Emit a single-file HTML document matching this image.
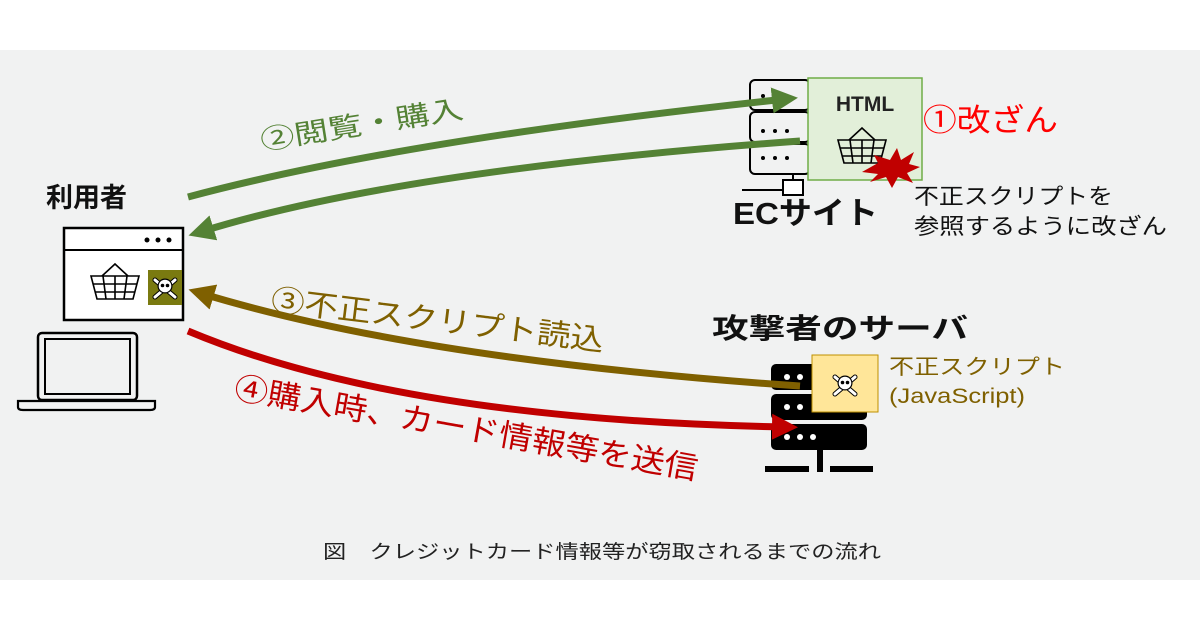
<!DOCTYPE html>
<html><head><meta charset="utf-8"><style>
html,body{margin:0;padding:0;background:#fff;}
svg{display:block;}
text{font-family:"Liberation Sans","Noto Sans CJK JP",sans-serif;}
</style></head><body>
<svg width="1200" height="630" viewBox="0 0 1200 630" xmlns="http://www.w3.org/2000/svg">
<defs>
<marker id="ag" markerWidth="28" markerHeight="26" refX="14" refY="13" orient="auto" markerUnits="userSpaceOnUse"><path d="M0,0 L26,13 L0,26 z" fill="#548235"/></marker>
<marker id="ab" markerWidth="28" markerHeight="26" refX="14" refY="13" orient="auto" markerUnits="userSpaceOnUse"><path d="M0,0 L26,13 L0,26 z" fill="#7f6000"/></marker>
<marker id="ar" markerWidth="28" markerHeight="26" refX="14" refY="13" orient="auto" markerUnits="userSpaceOnUse"><path d="M0,0 L26,13 L0,26 z" fill="#c00000"/></marker>
<g id="skull">
<path d="M-10,-8 L10,9 M10,-8 L-10,9" stroke="#000" stroke-width="5" stroke-linecap="round"/>
<path d="M-10,-8 L10,9 M10,-8 L-10,9" stroke="#fff" stroke-width="3" stroke-linecap="round"/>
<circle cx="0" cy="-2" r="7.5" fill="#000"/>
<circle cx="0" cy="-2" r="6.3" fill="#fff"/>
<circle cx="-2.5" cy="-2.5" r="1.8" fill="#000"/><circle cx="2.5" cy="-2.5" r="1.8" fill="#000"/>
</g>
<g id="basket" fill="none" stroke="#000" stroke-width="1.6">
<path d="M-13,-5 L0,-17 L13,-5"/>
<path d="M-24,-5 L24,-5 L18,18 L-18,18 Z"/>
<path d="M-22,3 L22,3 M-20,11 L20,11 M-12,-5 L-9,18 M0,-5 L0,18 M12,-5 L9,18"/>
</g>
</defs>
<rect x="0" y="50" width="1200" height="530" fill="#f1f2f2"/>

<!-- user -->
<text x="46" y="207" font-size="27" font-weight="bold" fill="#111">利用者</text>
<rect x="64" y="228" width="119" height="92" fill="#fff" stroke="#000" stroke-width="2.5"/>
<line x1="64" y1="250" x2="183" y2="250" stroke="#000" stroke-width="2"/>
<circle cx="147" cy="240" r="2.5"/><circle cx="158" cy="240" r="2.5"/><circle cx="169" cy="240" r="2.5"/>
<use href="#basket" transform="translate(115,281)"/>
<rect x="148" y="270" width="34" height="35" fill="#7a7a10"/>
<use href="#skull" transform="translate(165,288)"/>
<rect x="38" y="333" width="99" height="67" rx="4" fill="none" stroke="#000" stroke-width="2.5"/>
<rect x="45" y="339" width="85" height="55" fill="none" stroke="#000" stroke-width="2"/>
<path d="M18,401 L155,401 L155,407 Q155,410 150,410 L23,410 Q18,410 18,407 Z" fill="none" stroke="#000" stroke-width="2.2"/>

<!-- EC server -->
<g fill="none" stroke="#000" stroke-width="2">
<rect x="750" y="80" width="60" height="30" rx="5"/>
<rect x="750" y="112" width="60" height="30" rx="5"/>
<rect x="750" y="144" width="60" height="30" rx="5"/>
<line x1="793" y1="174" x2="793" y2="180"/>
<line x1="742" y1="190" x2="803" y2="190"/>
</g>
<g fill="#000"><circle cx="763" cy="96" r="2"/><circle cx="775" cy="96" r="2"/>
<circle cx="763" cy="131" r="2"/><circle cx="775" cy="131" r="2"/><circle cx="787" cy="131" r="2"/>
<circle cx="763" cy="158" r="2"/><circle cx="775" cy="158" r="2"/><circle cx="787" cy="158" r="2"/></g>
<rect x="783" y="180" width="20" height="15" fill="#fff" stroke="#000" stroke-width="2"/>
<rect x="808" y="78" width="114" height="102" fill="#e2efd9" stroke="#70ad47" stroke-width="1.5"/>
<text x="865" y="111" font-size="21" font-weight="bold" text-anchor="middle" fill="#222">HTML</text>
<use href="#basket" transform="translate(862,145)"/>
<path d="M862,172 L878,163 L874,155 L890,160 L897,148 L901,160 L914,152 L909,164 L920,167 L907,173 L913,183 L898,177 L892,188 L886,177 L870,182 L878,174 Z" fill="#c00000"/>
<text x="733" y="224" font-size="31" font-weight="bold" fill="#111" textLength="145" lengthAdjust="spacingAndGlyphs">ECサイト</text>
<text x="923" y="131" font-size="31" fill="#ff0000" textLength="135" lengthAdjust="spacingAndGlyphs">①改ざん</text>
<text x="914" y="204" font-size="22" fill="#111" textLength="199" lengthAdjust="spacingAndGlyphs">不正スクリプトを</text>
<text x="914" y="234" font-size="22" fill="#111" textLength="253" lengthAdjust="spacingAndGlyphs">参照するように改ざん</text>

<!-- attacker server -->
<text x="712" y="338" font-size="28" font-weight="bold" fill="#111" textLength="256" lengthAdjust="spacingAndGlyphs">攻撃者のサーバ</text>
<g fill="#000">
<rect x="771" y="364" width="96" height="26" rx="5"/>
<rect x="771" y="394" width="96" height="26" rx="5"/>
<rect x="771" y="424" width="96" height="26" rx="5"/>
<rect x="817" y="450" width="6" height="17"/>
<rect x="765" y="466" width="44" height="6"/><rect x="817" y="466" width="6" height="6"/><rect x="830" y="466" width="43" height="6"/>
</g>
<g fill="#fff"><circle cx="787" cy="377" r="3"/><circle cx="800" cy="377" r="3"/><circle cx="787" cy="407" r="3"/><circle cx="800" cy="407" r="3"/><circle cx="787" cy="437" r="3"/><circle cx="800" cy="437" r="3"/><circle cx="813" cy="437" r="3"/></g>
<rect x="812" y="355" width="66" height="57" fill="#ffe699" stroke="#bf9000" stroke-width="1"/>
<use href="#skull" transform="translate(845,385)"/>
<text x="889" y="374" font-size="21" fill="#7f6000" textLength="176" lengthAdjust="spacingAndGlyphs">不正スクリプト</text>
<text x="889" y="403" font-size="21" fill="#7f6000" textLength="136" lengthAdjust="spacingAndGlyphs">(JavaScript)</text>

<!-- arrows -->
<path d="M188,197 Q400,140 786,99" fill="none" stroke="#548235" stroke-width="7" marker-end="url(#ag)"/>
<path d="M800,141 Q400,170 200,232" fill="none" stroke="#548235" stroke-width="7" marker-end="url(#ag)"/>
<path d="M800,386 Q420,360 200,293" fill="none" stroke="#7f6000" stroke-width="7" marker-end="url(#ab)"/>
<path d="M188,331 Q400,420 786,427" fill="none" stroke="#c00000" stroke-width="7" marker-end="url(#ar)"/>

<text transform="translate(262,150) rotate(-9)" font-size="27" fill="#548235" textLength="205" lengthAdjust="spacingAndGlyphs">②閲覧・購入</text>
<text transform="translate(270,310) rotate(7)" font-size="30" fill="#7f6000" textLength="335" lengthAdjust="spacingAndGlyphs">③不正スクリプト読込</text>
<text transform="translate(233,398) rotate(10)" font-size="31" fill="#c00000" textLength="470" lengthAdjust="spacingAndGlyphs">④購入時、カード情報等を送信</text>

<text x="323" y="558" font-size="19" fill="#222" textLength="558" lengthAdjust="spacingAndGlyphs">図　クレジットカード情報等が窃取されるまでの流れ</text>
</svg>
</body></html>
